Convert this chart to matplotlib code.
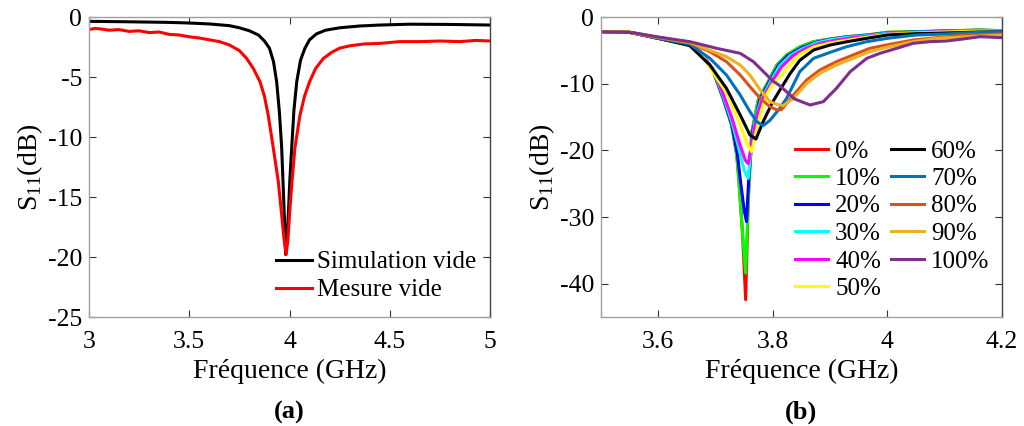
import matplotlib
matplotlib.use("Agg")
import matplotlib.pyplot as plt

plt.rcParams['font.family'] = ['Liberation Serif', 'DejaVu Serif']
plt.rcParams['mathtext.fontset'] = 'custom'
plt.rcParams['mathtext.rm'] = 'Liberation Serif'

# ---------------- Panel (a) data ----------------
sim_f = [3.0, 3.2, 3.4, 3.5, 3.6, 3.7, 3.75, 3.8, 3.845, 3.875, 3.9, 3.92, 3.936, 3.95, 3.961, 3.974,
         3.981, 3.988, 3.994, 4.002, 4.011, 4.022, 4.036, 4.055, 4.077, 4.1, 4.135, 4.18, 4.25, 4.35, 4.45,
         4.6, 4.8, 5.0]
sim_s = [-0.36, -0.4, -0.45, -0.5, -0.58, -0.72, -0.9, -1.15, -1.5, -2.0, -2.6, -3.7, -5.4, -8.0, -10.9, -16.5,
         -19.8, -18.5, -16.5, -13.5, -10.9, -7.8, -5.4, -3.6, -2.6, -1.9, -1.4, -1.1, -0.9, -0.75, -0.67,
         -0.6, -0.62, -0.67]

mes_f = [3.0, 3.03, 3.06, 3.1, 3.15, 3.2, 3.25, 3.3, 3.35, 3.4, 3.45, 3.5, 3.55, 3.6, 3.65, 3.7, 3.75, 3.786,
         3.82, 3.853, 3.875, 3.894, 3.919, 3.944, 3.961, 3.972, 3.983, 3.992, 4.0, 4.012, 4.027, 4.052, 4.075,
         4.1, 4.13, 4.169, 4.21, 4.25, 4.3, 4.37, 4.45, 4.55, 4.65, 4.75, 4.85, 4.93, 5.0]
mes_s = [-1.05, -0.95, -1.0, -1.1, -1.05, -1.2, -1.15, -1.3, -1.25, -1.45, -1.5, -1.65, -1.75, -1.9, -2.05, -2.33,
         -2.8, -3.45, -4.3, -5.4, -6.6, -8.2, -10.9, -13.7, -16.5, -18.4, -19.8, -18.6, -16.5, -13.8, -10.9, -8.2,
         -6.6, -5.4, -4.3, -3.45, -2.95, -2.6, -2.4, -2.25, -2.2, -2.05, -2.05, -2.0, -2.05, -1.95, -2.0]

# ---------------- Panel (b) data ----------------
labels_b = ['0%', '10%', '20%', '30%', '40%', '50%', '60%', '70%', '80%', '90%', '100%']
colors_b = ['#FF0000', '#00FF00', '#0000FF', '#00FFFF', '#FF00FF', '#FFFF00',
            '#000000', '#0072BD', '#D95319', '#EDB120', '#7E2F8E']

f_0 = [3.5, 3.55, 3.6, 3.655, 3.673, 3.696, 3.713, 3.728, 3.737, 3.741, 3.747, 3.7525, 3.757, 3.763, 3.7745,
       3.792, 3.807, 3.824, 3.847, 3.871, 3.9, 3.93, 3.964, 4.0, 4.05, 4.1, 4.16, 4.2]
s_0 = [-2.2, -2.3, -3.2, -4.2, -5.2, -8.2, -12.2, -16.2, -20.7, -24.9, -32.4, -42.4, -27.5, -17.45, -12.45,
       -9.7, -7.2, -5.7, -4.5, -3.7, -3.3, -2.95, -2.7, -2.3, -2.2, -2.1, -1.95, -2.05]
f_10 = [3.5, 3.55, 3.6, 3.655, 3.673, 3.696, 3.713, 3.728, 3.737, 3.741, 3.747, 3.7525, 3.757, 3.763, 3.7745,
        3.792, 3.807, 3.824, 3.847, 3.871, 3.9, 3.93, 3.964, 4.0, 4.05, 4.1, 4.16, 4.2]
s_10 = [-2.2, -2.3, -3.2, -4.2, -5.2, -8.2, -12.2, -16.2, -20.7, -24.9, -32.4, -38.4, -27.5, -17.45, -12.45,
        -9.7, -7.2, -5.7, -4.5, -3.7, -3.3, -2.95, -2.7, -2.3, -2.2, -2.1, -1.95, -2.05]
f_20 = [3.5, 3.55, 3.6, 3.655, 3.673, 3.696, 3.713, 3.728, 3.738, 3.744, 3.75, 3.754, 3.758, 3.765, 3.777,
        3.795, 3.81, 3.826, 3.85, 3.875, 3.9, 3.93, 3.964, 4.0, 4.05, 4.1, 4.16, 4.2]
s_20 = [-2.2, -2.3, -3.2, -4.2, -5.2, -8.1, -12.0, -16.0, -20.5, -25.0, -29.0, -30.7, -24.0, -17.0, -12.4,
        -9.5, -7.2, -5.8, -4.6, -3.8, -3.35, -3.0, -2.75, -2.4, -2.25, -2.1, -2.0, -2.05]
f_30 = [3.5, 3.55, 3.6, 3.655, 3.673, 3.696, 3.713, 3.728, 3.74, 3.75, 3.757, 3.763, 3.77, 3.78, 3.797,
        3.812, 3.83, 3.85, 3.875, 3.9, 3.93, 3.964, 4.0, 4.05, 4.1, 4.16, 4.2]
s_30 = [-2.2, -2.3, -3.2, -4.2, -5.2, -8.0, -11.8, -15.6, -19.5, -23.0, -24.2, -19.0, -15.0, -12.3, -9.5,
        -7.3, -5.8, -4.8, -3.9, -3.4, -3.05, -2.8, -2.45, -2.3, -2.15, -2.0, -2.1]
f_40 = [3.5, 3.55, 3.6, 3.655, 3.673, 3.696, 3.713, 3.728, 3.742, 3.752, 3.757, 3.763, 3.772, 3.782, 3.8,
        3.815, 3.835, 3.86, 3.885, 3.91, 3.94, 3.97, 4.0, 4.05, 4.1, 4.16, 4.2]
s_40 = [-2.2, -2.3, -3.2, -4.2, -5.2, -7.9, -11.5, -15.0, -19.0, -21.5, -22.0, -19.0, -14.8, -12.3, -9.5,
        -7.5, -5.8, -4.6, -3.9, -3.5, -3.1, -2.85, -2.55, -2.35, -2.2, -2.05, -2.15]
f_50 = [3.5, 3.55, 3.6, 3.655, 3.673, 3.69, 3.72, 3.74, 3.755, 3.763, 3.77, 3.78, 3.79, 3.8, 3.812, 3.83,
        3.847, 3.871, 3.9, 3.95, 4.0, 4.05, 4.1, 4.16, 4.2]
s_50 = [-2.2, -2.3, -3.2, -4.25, -5.2, -7.6, -11.5, -15.5, -19.0, -20.2, -17.5, -14.0, -11.5, -10.0, -9.0, -7.2,
        -5.6, -4.5, -3.9, -3.2, -2.6, -2.4, -2.25, -2.1, -2.15]
f_60 = [3.5, 3.55, 3.6, 3.655, 3.69, 3.719, 3.743, 3.76, 3.7705, 3.783, 3.8, 3.812, 3.83, 3.847, 3.871, 3.9,
        3.93, 3.964, 4.0, 4.05, 4.1, 4.16, 4.2]
s_60 = [-2.2, -2.3, -3.2, -4.3, -7.2, -10.7, -14.7, -17.7, -18.3, -15.7, -12.7, -11.0, -8.5, -6.5, -4.95, -4.2,
        -3.7, -3.2, -2.7, -2.5, -2.4, -2.25, -2.2]
f_70 = [3.5, 3.55, 3.6, 3.655, 3.69, 3.719, 3.743, 3.76, 3.772, 3.783, 3.795, 3.812, 3.824, 3.847, 3.871,
        3.9, 3.929, 3.964, 4.0, 4.05, 4.1, 4.16, 4.2]
s_70 = [-2.2, -2.3, -3.2, -4.1, -6.2, -8.7, -11.7, -14.2, -15.7, -16.3, -15.5, -13.7, -12.2, -8.2, -6.2,
        -5.3, -4.45, -3.7, -3.2, -2.7, -2.55, -2.3, -2.2]
f_80 = [3.5, 3.55, 3.6, 3.655, 3.69, 3.719, 3.743, 3.76, 3.778, 3.795, 3.807, 3.815, 3.836, 3.859, 3.882,
        3.911, 3.94, 3.969, 4.004, 4.045, 4.086, 4.132, 4.2]
s_80 = [-2.2, -2.3, -3.1, -3.9, -5.2, -6.7, -8.7, -10.45, -12.2, -13.45, -13.95, -13.9, -11.7, -9.45, -7.95,
        -6.7, -5.7, -4.7, -4.1, -3.45, -3.1, -2.7, -2.55]
f_90 = [3.5, 3.55, 3.6, 3.655, 3.69, 3.719, 3.743, 3.76, 3.778, 3.795, 3.807, 3.818, 3.836, 3.859, 3.882,
        3.911, 3.94, 3.969, 4.004, 4.045, 4.086, 4.132, 4.2]
s_90 = [-2.2, -2.3, -3.05, -3.8, -5.0, -5.95, -7.2, -8.7, -10.95, -12.7, -13.1, -13.3, -12.2, -9.95, -8.45,
        -7.2, -6.2, -5.2, -4.45, -3.7, -3.2, -3.0, -2.7]
f_100 = [3.5, 3.556, 3.6, 3.655, 3.702, 3.743, 3.766, 3.8, 3.812, 3.838, 3.865, 3.888, 3.911, 3.935, 3.964,
         3.987, 4.016, 4.045, 4.074, 4.103, 4.132, 4.162, 4.2]
s_100 = [-2.2, -2.35, -3.0, -3.7, -4.7, -5.45, -6.7, -9.6, -10.3, -12.3, -13.2, -12.7, -10.7, -8.2, -6.2,
         -5.45, -4.7, -3.95, -3.7, -3.6, -3.3, -2.95, -3.1]

freqs_b = [f_0, f_10, f_20, f_30, f_40, f_50, f_60, f_70, f_80, f_90, f_100]
s11_b = [s_0, s_10, s_20, s_30, s_40, s_50, s_60, s_70, s_80, s_90, s_100]

# ---------------- Figure ----------------
fig = plt.figure(figsize=(10.24, 4.26), dpi=100)
axa = fig.add_axes([89/1024, 1-317/426, 401/1024, 300/426])
axb = fig.add_axes([601/1024, 1-317/426, 401/1024, 300/426])

TICK_FS = 18.5
LAB_FS = 20
LEG_FS = 18

def style(ax):
    ax.tick_params(direction='in', top=True, right=True, labelsize=TICK_FS, length=5,
                   color='#333333')
    ax.tick_params(axis='x', pad=10)
    ax.tick_params(axis='y', pad=5)
    for side in ['left', 'bottom', 'top']:
        ax.spines[side].set_color('#a0a0a0')
    ax.spines['right'].set_color('#444444')
    for sp in ax.spines.values():
        sp.set_linewidth(1.0)
    ax.set_xlabel('Fréquence (GHz)', fontsize=LAB_FS, labelpad=4)
    ax.set_ylabel(r'S$_{11}$(dB)', fontsize=LAB_FS, labelpad=2)

# Panel (a)
axa.plot(sim_f, sim_s, color='black', lw=2.2, label='Simulation vide')
axa.plot(mes_f, mes_s, color='#FF0000', lw=2.2, label='Mesure vide')
axa.set_xlim(3, 5)
axa.set_ylim(-25, 0)
axa.set_xticks([3, 3.5, 4, 4.5, 5])
axa.set_xticklabels(['3', '3.5', '4', '4.5', '5'])
axa.set_yticks([-25, -20, -15, -10, -5, 0])
axa.set_yticklabels(['-25', '-20', '-15', '-10', '-5', '0'])
style(axa)
axa.legend(loc='upper left', bbox_to_anchor=(0.466, 0.22), frameon=False, fontsize=LEG_FS,
           handlelength=1.44, handletextpad=0.2, labelspacing=0.22, borderpad=0.0, borderaxespad=0.0)

# Panel (b)
for f, s, c, lab in zip(freqs_b, s11_b, colors_b, labels_b):
    axb.plot(f, s, color=c, lw=2.2, label=lab)
axb.set_xlim(3.5, 4.2)
axb.set_ylim(-45, 0)
axb.set_xticks([3.6, 3.8, 4.0, 4.2])
axb.set_xticklabels(['3.6', '3.8', '4', '4.2'])
axb.set_yticks([-40, -30, -20, -10, 0])
axb.set_yticklabels(['-40', '-30', '-20', '-10', '0'])
style(axb)
axb.legend(loc='upper left', bbox_to_anchor=(0.484, 0.59), frameon=False, fontsize=LEG_FS, ncol=2,
           handlelength=1.32, handletextpad=0.28, labelspacing=0.2, columnspacing=0.4,
           borderpad=0.0, borderaxespad=0.0)

fig.text(289/1024, 1-412/426, '(a)', fontsize=19, fontweight='bold', ha='center', va='center')
fig.text(801/1024, 1-412/426, '(b)', fontsize=19, fontweight='bold', ha='center', va='center')

fig.savefig('out.png', dpi=100)
